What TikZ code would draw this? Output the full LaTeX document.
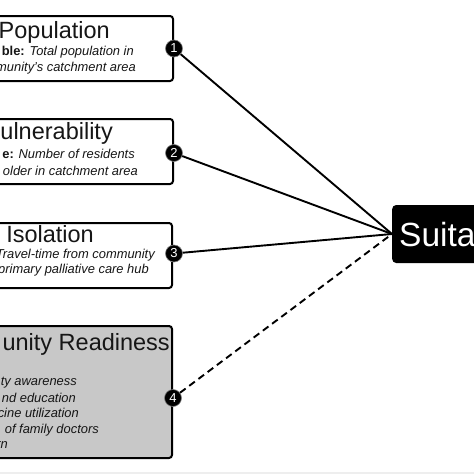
\documentclass[tikz,border=0pt]{standalone}
\usepackage{fontspec}
\setmainfont{Liberation Sans}
\usetikzlibrary{positioning, calc}
\definecolor{boxgray}{RGB}{200,200,200}
\definecolor{inkgray}{RGB}{22,22,22}
\definecolor{bandgray}{RGB}{238,238,238}
\tikzstyle{factor} = [rectangle, draw, line width=2pt, rounded corners=3pt, minimum width=320pt, minimum height=65pt, anchor=north east, fill=white]
\tikzstyle{title} = [anchor=base east, inner sep=0pt, font=\fontsize{23.5}{25}\selectfont, text=inkgray]
\tikzstyle{detail} = [anchor=base east, inner sep=0pt, font=\fontsize{12.9}{14}\selectfont\itshape, text=inkgray]
\tikzstyle{badge} = [circle, draw=gray, line width=0.6pt, fill=black, text=white, inner sep=0pt, minimum size=17pt, font=\fontsize{13}{13}\selectfont]
\tikzstyle{hub} = [rectangle, anchor=west, fill=black, text=white, rounded corners=4pt, minimum height=58pt, minimum width=120pt, text width=110pt, text height=24pt, text depth=0pt, inner xsep=7pt, align=left, font=\fontsize{33.5}{35}\selectfont]
\tikzstyle{link} = [line width=1.9pt, black]
\tikzstyle{weaklink} = [line width=1.9pt, black, dash pattern=on 7pt off 4.5pt]

\begin{document}
\begin{tikzpicture}[x=1pt, y=-1pt]
	\useasboundingbox (0,0) rectangle (474,474);
	\clip (0,0) rectangle (474,474);
	\fill[bandgray] (0,472) rectangle (474,474);

	% Factor boxes
	\node (pop) [factor] at (174,15) {};
	\node (vul) [factor] at (174,118) {};
	\node (iso) [factor] at (173,222) {};
	\node (read) [factor, fill=boxgray, minimum height=132pt] at (173,325) {};

	% Box texts
	\node (pop_title) [title] at (110,38) {Population};
	\node (pop_var) [detail] at (134,55) {{\upshape\bfseries ble:} Total population in};
	\node (pop_area) [detail] at (136,71) {munity's catchment area};

	\node (vul_title) [title] at (113,139) {ulnerability};
	\node (vul_var) [detail] at (135,158) {{\upshape\bfseries e:} Number of residents};
	\node (vul_area) [detail] at (138,175) {older in catchment area};

	\node (iso_title) [title] at (94,242) {Isolation};
	\node (iso_var) [detail] at (155,258) {Travel-time from community};
	\node (iso_hub) [detail] at (149,273) {primary palliative care hub};

	\node (read_title) [title] at (170,350) {unity Readiness};
	\node (read_a) [detail] at (77,385) {ty awareness};
	\node (read_b) [detail] at (76,402) {nd education};
	\node (read_c) [detail] at (79,417) {cine utilization};
	\node (read_d) [detail] at (99,433) {of family doctors};
	\node (read_e) [detail] at (8,448) {rn};

	% Outcome
	\node (suit) [hub] at (392,234) {Suitability};

	% Numbered badges
	\node (b1) [badge] at (pop.east) {1};
	\node (b2) [badge] at ([yshift=-1.5pt]vul.east) {2};
	\node (b3) [badge] at ([xshift=1pt,yshift=2pt]iso.east) {3};
	\node (b4) [badge] at ([yshift=-6pt]read.east) {4};

	% Links
	\draw[link] (b1) -- (suit.west);
	\draw[link] (b2) -- (suit.west);
	\draw[link] (b3) -- (suit.west);
	\draw[weaklink] (b4) -- (suit.west);

\end{tikzpicture}
\end{document}
